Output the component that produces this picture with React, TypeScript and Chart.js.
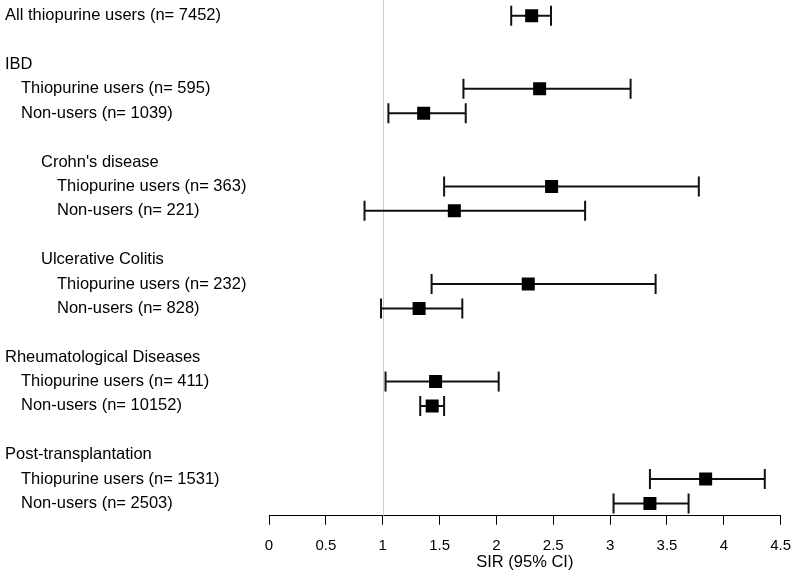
import React, { useEffect, useRef } from 'react';
import { Chart, registerables } from 'chart.js';

Chart.register(...registerables);

// Row labels (top to bottom) and their indentation level
const rowLabels: string[] = [
  'All thiopurine users (n= 7452)',
  '',
  'IBD',
  'Thiopurine users (n= 595)',
  'Non-users (n= 1039)',
  '',
  "Crohn's disease",
  'Thiopurine users (n= 363)',
  'Non-users (n= 221)',
  '',
  'Ulcerative Colitis',
  'Thiopurine users (n= 232)',
  'Non-users (n= 828)',
  '',
  'Rheumatological Diseases',
  'Thiopurine users (n= 411)',
  'Non-users (n= 10152)',
  '',
  'Post-transplantation',
  'Thiopurine users (n= 1531)',
  'Non-users (n= 2503)',
];
const rowIndent: number[] = [0, 0, 0, 1, 1, 0, 2, 3, 3, 0, 2, 3, 3, 0, 0, 1, 1, 0, 0, 1, 1];

// Estimates (rows that carry a SIR)
const estRows: number[] = [0, 3, 4, 7, 8, 11, 12, 15, 16, 19, 20];
const sir: number[] = [2.31, 2.38, 1.36, 2.485, 1.63, 2.28, 1.32, 1.465, 1.435, 3.84, 3.35];
const ciLow: number[] = [2.13, 1.71, 1.05, 1.54, 0.84, 1.43, 0.985, 1.025, 1.33, 3.35, 3.03];
const ciHigh: number[] = [2.48, 3.18, 1.73, 3.78, 2.78, 3.4, 1.7, 2.02, 1.54, 4.36, 3.69];

const xTicks: number[] = [0, 0.5, 1, 1.5, 2, 2.5, 3, 3.5, 4, 4.5];
const refValue = 1;
const xTitle = 'SIR (95% CI)';

const indentPx = [5, 21, 41, 57];
const FONT = "'Liberation Sans', Arial, sans-serif";

const forestPlugin = {
  id: 'forest',
  beforeDatasetsDraw(chart: any) {
    const { ctx, chartArea, scales } = chart;
    const xs = scales.x;
    const ys = scales.y;
    ctx.save();
    // reference line
    const rx = Math.round(xs.getPixelForValue(refValue)) + 0.5;
    ctx.strokeStyle = '#cccccc';
    ctx.lineWidth = 1;
    ctx.beginPath();
    ctx.moveTo(rx, 0);
    ctx.lineTo(rx, chartArea.bottom);
    ctx.stroke();
    // whiskers
    ctx.strokeStyle = '#111111';
    ctx.lineWidth = 2;
    for (let i = 0; i < estRows.length; i++) {
      const y = ys.getPixelForValue(estRows[i]);
      const x1 = xs.getPixelForValue(ciLow[i]);
      const x2 = xs.getPixelForValue(ciHigh[i]);
      ctx.beginPath();
      ctx.moveTo(x1, y);
      ctx.lineTo(x2, y);
      ctx.moveTo(x1, y - 10);
      ctx.lineTo(x1, y + 10);
      ctx.moveTo(x2, y - 10);
      ctx.lineTo(x2, y + 10);
      ctx.stroke();
    }
    ctx.restore();
  },
  afterDraw(chart: any) {
    const { ctx, scales } = chart;
    const ys = scales.y;
    ctx.save();
    ctx.fillStyle = '#000000';
    ctx.font = `16.5px ${FONT}`;
    ctx.textAlign = 'left';
    ctx.textBaseline = 'middle';
    for (let r = 0; r < rowLabels.length; r++) {
      if (!rowLabels[r]) continue;
      ctx.fillText(rowLabels[r], indentPx[rowIndent[r]], ys.getPixelForValue(r));
    }
    ctx.restore();
  },
};

export default function App() {
  const ref = useRef<HTMLCanvasElement | null>(null);
  useEffect(() => {
    document.body.style.margin = '0';
    if (!ref.current) return;
    const chart = new Chart(ref.current, {
      type: 'scatter',
      data: {
        datasets: [
          {
            data: estRows.map((r, i) => ({ x: sir[i], y: r })),
            pointStyle: 'rect',
            pointRadius: 9.2,
            pointHoverRadius: 9.2,
            backgroundColor: '#000000',
            borderWidth: 0,
          },
        ],
      },
      options: {
        responsive: false,
        animation: false,
        events: [],
        layout: { autoPadding: false, padding: { left: 269, right: 16.3, top: 3.5, bottom: 2.5 } },
        plugins: { legend: { display: false }, tooltip: { enabled: false } },
        scales: {
          x: {
            type: 'linear',
            min: 0,
            max: 4.5,
            afterBuildTicks: (axis: any) => {
              axis.ticks = xTicks.map((v) => ({ value: v }));
            },
            afterFit: (axis: any) => {
              axis.paddingLeft = 0;
              axis.paddingRight = 0;
            },
            grid: {
              drawOnChartArea: false,
              drawTicks: true,
              tickLength: 9,
              color: '#000000',
              lineWidth: 1,
            },
            border: { display: true, color: '#000000', width: 1 },
            ticks: {
              color: '#000000',
              font: { family: FONT, size: 15 },
              padding: 12,
              maxRotation: 0,
              autoSkip: false,
              callback: (v: any) => String(v),
            },
            title: {
              display: true,
              text: xTitle,
              color: '#000000',
              font: { family: FONT, size: 16.5 },
              padding: { top: -14.5, bottom: 7.5 },
            },
          },
          y: {
            type: 'linear',
            display: false,
            reverse: true,
            min: -0.5,
            max: 20.5,
          },
        },
      },
      plugins: [forestPlugin],
    });
    return () => chart.destroy();
  }, []);
  return (
    <div style={{ width: 797, height: 582, background: '#ffffff' }}>
      <canvas ref={ref} width={797} height={582} style={{ display: 'block' }} />
    </div>
  );
}
